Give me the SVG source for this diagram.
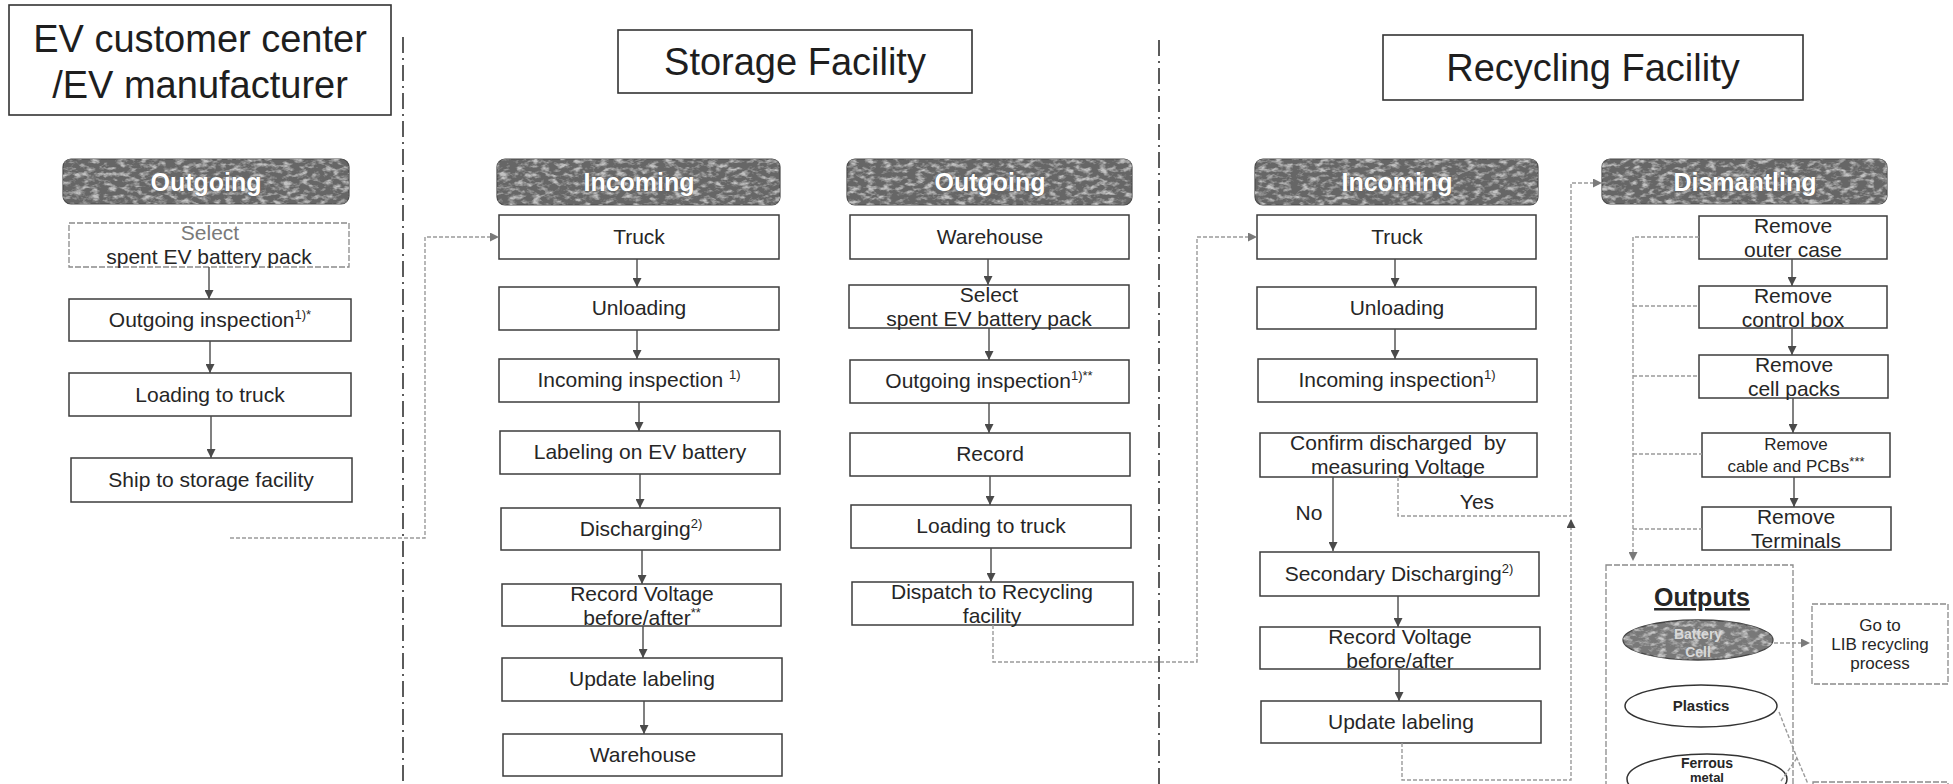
<svg xmlns="http://www.w3.org/2000/svg" width="1953" height="784" viewBox="0 0 1953 784">
<style>
.t{font-family:"Liberation Sans",Arial,sans-serif;fill:#262626;font-size:21px;text-anchor:middle}
.title{font-size:38px;fill:#1e1e1e}
.hd{font-weight:bold;font-size:25px;fill:#fff;stroke:#5a5a5a;stroke-width:0.6;paint-order:stroke}
.box{fill:#fff;stroke:#3c3c3c;stroke-width:1.5}
.tbox{fill:#fff;stroke:#333;stroke-width:1.6}
.hdr{fill:#666;stroke:#4a4a4a;stroke-width:1.2}
.tex{fill:#000;opacity:0.6}
.arr{stroke:#4a4a4a;stroke-width:1.4;fill:none}
.conn{stroke:#9a9a9a;stroke-width:1.4;fill:none;stroke-dasharray:4 2}
.div{stroke:#333;stroke-width:1.6;stroke-dasharray:16 5 2 5;fill:none}
.dbox{fill:#fff;stroke:#8a8a8a;stroke-width:1.3;stroke-dasharray:6 2}
.sup{font-size:13px}
.sm{font-size:17px}
.out{font-size:15px;font-weight:bold}
</style>
<defs>
<marker id="ah" viewBox="0 0 10 10" refX="10" refY="5" markerWidth="9" markerHeight="9" markerUnits="userSpaceOnUse" orient="auto"><path d="M0,0L10,5L0,10z" fill="#4a4a4a"/></marker>
<marker id="ahg" viewBox="0 0 10 10" refX="10" refY="5" markerWidth="9" markerHeight="9" markerUnits="userSpaceOnUse" orient="auto"><path d="M0,0L10,5L0,10z" fill="#7a7a7a"/></marker>
<filter id="speck" x="0" y="0" width="1" height="1">
<feTurbulence type="fractalNoise" baseFrequency="0.12 0.22" numOctaves="3" seed="5" result="n"/>
<feColorMatrix in="n" type="matrix" values="0 0 0 0 1 0 0 0 0 1 0 0 0 0 1 0 0 0 3 -1.35" result="w"/>
<feComposite in="w" in2="SourceGraphic" operator="in"/>
</filter>
</defs>
<rect width="1953" height="784" fill="#fff"/>

<g id="dividers">
<line class="div" x1="403" y1="37" x2="403" y2="784"/>
<line class="div" x1="1159" y1="40" x2="1159" y2="784"/>
</g>

<g id="title-ev"><rect class="tbox" x="9" y="5" width="382" height="110"/>
<text class="t title" x="200" y="52">EV customer center</text>
<text class="t title" x="200" y="98">/EV manufacturer</text></g>
<g id="title-storage"><rect class="tbox" x="618" y="30" width="354" height="63"/>
<text class="t title" x="795" y="75">Storage Facility</text></g>
<g id="title-recycling"><rect class="tbox" x="1383" y="35" width="420" height="65"/>
<text class="t title" x="1593" y="81">Recycling Facility</text></g>

<!-- Column 1 -->
<g id="c1-header"><rect class="hdr" x="63" y="159" width="286" height="45" rx="8"/><rect class="tex" x="63" y="159" width="286" height="45" rx="8" filter="url(#speck)"/>
<text class="t hd" x="206" y="191">Outgoing</text></g>
<g id="c1-select"><rect class="dbox" x="69" y="223" width="280" height="44"/>
<text class="t" x="210" y="240" style="fill:#7a7a7a">Select</text><text class="t" x="209" y="264">spent EV battery pack</text></g>
<g id="c1-inspection"><rect class="box" x="69" y="299" width="282" height="42"/>
<text class="t" x="210" y="327">Outgoing inspection<tspan class="sup" dy="-8">1)*</tspan></text></g>
<g id="c1-loading"><rect class="box" x="69" y="373" width="282" height="43"/>
<text class="t" x="210" y="402">Loading to truck</text></g>
<g id="c1-ship"><rect class="box" x="71" y="458" width="281" height="44"/>
<text class="t" x="211" y="487">Ship to storage facility</text></g>

<!-- Column 2 -->
<g id="c2-header"><rect class="hdr" x="497" y="159" width="283" height="46" rx="8"/><rect class="tex" x="497" y="159" width="283" height="46" rx="8" filter="url(#speck)"/>
<text class="t hd" x="639" y="191">Incoming</text></g>
<g id="c2-truck"><rect class="box" x="499" y="215" width="280" height="44"/><text class="t" x="639" y="244">Truck</text></g>
<g id="c2-unloading"><rect class="box" x="499" y="287" width="280" height="43"/><text class="t" x="639" y="315">Unloading</text></g>
<g id="c2-inspection"><rect class="box" x="499" y="359" width="280" height="43"/><text class="t" x="639" y="387">Incoming inspection <tspan class="sup" dy="-8">1)</tspan></text></g>
<g id="c2-labeling"><rect class="box" x="500" y="431" width="280" height="43"/><text class="t" x="640" y="459">Labeling on EV battery</text></g>
<g id="c2-discharging"><rect class="box" x="501" y="508" width="279" height="42"/><text class="t" x="641" y="536">Discharging<tspan class="sup" dy="-8">2)</tspan></text></g>
<g id="c2-record"><rect class="box" x="502" y="584" width="279" height="42"/><text class="t" x="642" y="601">Record Voltage</text><text class="t" x="642" y="625">before/after<tspan class="sup" dy="-8">**</tspan></text></g>
<g id="c2-update"><rect class="box" x="502" y="658" width="280" height="43"/><text class="t" x="642" y="686">Update labeling</text></g>
<g id="c2-warehouse"><rect class="box" x="503" y="734" width="279" height="42"/><text class="t" x="643" y="762">Warehouse</text></g>

<!-- Column 3 -->
<g id="c3-header"><rect class="hdr" x="847" y="159" width="285" height="46" rx="8"/><rect class="tex" x="847" y="159" width="285" height="46" rx="8" filter="url(#speck)"/>
<text class="t hd" x="990" y="191">Outgoing</text></g>
<g id="c3-warehouse"><rect class="box" x="850" y="215" width="279" height="44"/><text class="t" x="990" y="244">Warehouse</text></g>
<g id="c3-select"><rect class="box" x="849" y="285" width="280" height="43"/><text class="t" x="989" y="302">Select</text><text class="t" x="989" y="326">spent EV battery pack</text></g>
<g id="c3-inspection"><rect class="box" x="850" y="360" width="279" height="43"/><text class="t" x="989" y="388">Outgoing inspection<tspan class="sup" dy="-8">1)**</tspan></text></g>
<g id="c3-record"><rect class="box" x="850" y="433" width="280" height="43"/><text class="t" x="990" y="461">Record</text></g>
<g id="c3-loading"><rect class="box" x="851" y="505" width="280" height="43"/><text class="t" x="991" y="533">Loading to truck</text></g>
<g id="c3-dispatch"><rect class="box" x="852" y="582" width="281" height="43"/><text class="t" x="992" y="599">Dispatch to Recycling</text><text class="t" x="992" y="623">facility</text></g>

<!-- Column 4 -->
<g id="c4-header"><rect class="hdr" x="1255" y="159" width="283" height="46" rx="8"/><rect class="tex" x="1255" y="159" width="283" height="46" rx="8" filter="url(#speck)"/>
<text class="t hd" x="1397" y="191">Incoming</text></g>
<g id="c4-truck"><rect class="box" x="1257" y="215" width="279" height="44"/><text class="t" x="1397" y="244">Truck</text></g>
<g id="c4-unloading"><rect class="box" x="1257" y="287" width="279" height="42"/><text class="t" x="1397" y="315">Unloading</text></g>
<g id="c4-inspection"><rect class="box" x="1258" y="359" width="279" height="43"/><text class="t" x="1397" y="387">Incoming inspection<tspan class="sup" dy="-8">1)</tspan></text></g>
<g id="c4-confirm"><rect class="box" x="1260" y="433" width="277" height="44"/><text class="t" x="1398" y="450" xml:space="preserve">Confirm discharged  by</text><text class="t" x="1398" y="474">measuring Voltage</text></g>
<g id="c4-secondary"><rect class="box" x="1260" y="552" width="279" height="44"/><text class="t" x="1399" y="581">Secondary Discharging<tspan class="sup" dy="-8">2)</tspan></text></g>
<g id="c4-record"><rect class="box" x="1260" y="627" width="280" height="42"/><text class="t" x="1400" y="644">Record Voltage</text><text class="t" x="1400" y="668">before/after</text></g>
<g id="c4-update"><rect class="box" x="1261" y="701" width="280" height="42"/><text class="t" x="1401" y="729">Update labeling</text></g>

<!-- Column 5 -->
<g id="c5-header"><rect class="hdr" x="1602" y="159" width="285" height="45" rx="8"/><rect class="tex" x="1602" y="159" width="285" height="45" rx="8" filter="url(#speck)"/>
<text class="t hd" x="1745" y="191">Dismantling</text></g>
<g id="c5-outer"><rect class="box" x="1699" y="216" width="188" height="43"/><text class="t" x="1793" y="233">Remove</text><text class="t" x="1793" y="257">outer case</text></g>
<g id="c5-control"><rect class="box" x="1699" y="286" width="188" height="42"/><text class="t" x="1793" y="303">Remove</text><text class="t" x="1793" y="327">control box</text></g>
<g id="c5-cell"><rect class="box" x="1699" y="355" width="189" height="43"/><text class="t" x="1794" y="372">Remove</text><text class="t" x="1794" y="396">cell packs</text></g>
<g id="c5-cable"><rect class="box" x="1702" y="433" width="188" height="44"/><text class="t sm" x="1796" y="450">Remove</text><text class="t sm" x="1796" y="472">cable and PCBs<tspan class="sup" dy="-6">***</tspan></text></g>
<g id="c5-terminals"><rect class="box" x="1702" y="507" width="189" height="43"/><text class="t" x="1796" y="524">Remove</text><text class="t" x="1796" y="548">Terminals</text></g>

<g id="outputs">
<rect class="dbox" x="1606" y="565" width="187" height="240"/>
<text class="t" x="1702" y="606" style="font-size:25px;font-weight:bold;text-decoration:underline">Outputs</text>
</g>
<g id="battery-cell"><ellipse cx="1698" cy="640" rx="75" ry="20" fill="#787878" stroke="#444" stroke-width="1.3"/>
<ellipse cx="1698" cy="640" rx="75" ry="20" class="tex" filter="url(#speck)"/>
<text class="t out" x="1698" y="639" style="fill:#d8d8d8;font-size:14px">Battery</text><text class="t out" x="1698" y="657" style="fill:#d8d8d8;font-size:14px">Cell</text></g>
<g id="plastics"><ellipse cx="1701" cy="706" rx="76" ry="21" fill="#fff" stroke="#333" stroke-width="1.5"/>
<text class="t out" x="1701" y="711">Plastics</text></g>
<g id="ferrous"><ellipse cx="1707" cy="779" rx="80" ry="25" fill="#fff" stroke="#333" stroke-width="1.5"/>
<text class="t out" x="1707" y="768" style="font-size:14px">Ferrous</text><text class="t out" x="1707" y="782" style="font-size:13px">metal</text></g>
<g id="lib"><rect class="dbox" x="1812" y="604" width="136" height="80"/>
<text class="t sm" x="1880" y="631">Go to</text><text class="t sm" x="1880" y="650">LIB recycling</text><text class="t sm" x="1880" y="669">process</text></g>
<g id="bottom-box"><rect class="dbox" x="1813" y="782" width="135" height="30"/></g>

<g id="connectors">
<line class="arr" x1="209" y1="267" x2="209" y2="299" marker-end="url(#ah)"/>
<line class="arr" x1="210" y1="341" x2="210" y2="373" marker-end="url(#ah)"/>
<line class="arr" x1="211" y1="416" x2="211" y2="458" marker-end="url(#ah)"/>
<line class="arr" x1="637" y1="259" x2="637" y2="287" marker-end="url(#ah)"/>
<line class="arr" x1="637" y1="330" x2="637" y2="359" marker-end="url(#ah)"/>
<line class="arr" x1="639" y1="402" x2="639" y2="431" marker-end="url(#ah)"/>
<line class="arr" x1="640" y1="474" x2="640" y2="508" marker-end="url(#ah)"/>
<line class="arr" x1="642" y1="550" x2="642" y2="584" marker-end="url(#ah)"/>
<line class="arr" x1="643" y1="626" x2="643" y2="658" marker-end="url(#ah)"/>
<line class="arr" x1="644" y1="701" x2="644" y2="734" marker-end="url(#ah)"/>
<line class="arr" x1="988" y1="259" x2="988" y2="285" marker-end="url(#ah)"/>
<line class="arr" x1="989" y1="328" x2="989" y2="360" marker-end="url(#ah)"/>
<line class="arr" x1="989" y1="403" x2="989" y2="433" marker-end="url(#ah)"/>
<line class="arr" x1="990" y1="476" x2="990" y2="505" marker-end="url(#ah)"/>
<line class="arr" x1="991" y1="548" x2="991" y2="582" marker-end="url(#ah)"/>
<line class="arr" x1="1395" y1="259" x2="1395" y2="287" marker-end="url(#ah)"/>
<line class="arr" x1="1395" y1="329" x2="1395" y2="359" marker-end="url(#ah)"/>
<line class="arr" x1="1333" y1="477" x2="1333" y2="551" marker-end="url(#ah)"/>
<line class="arr" x1="1398" y1="596" x2="1398" y2="627" marker-end="url(#ah)"/>
<line class="arr" x1="1399" y1="669" x2="1399" y2="701" marker-end="url(#ah)"/>
<line class="arr" x1="1792" y1="259" x2="1792" y2="286" marker-end="url(#ah)"/>
<line class="arr" x1="1792" y1="328" x2="1792" y2="355" marker-end="url(#ah)"/>
<line class="arr" x1="1793" y1="398" x2="1793" y2="433" marker-end="url(#ah)"/>
<line class="arr" x1="1794" y1="477" x2="1794" y2="507" marker-end="url(#ah)"/>
<polyline class="conn" points="230,538 425,538 425,237 499,237" marker-end="url(#ahg)"/>
<polyline class="conn" points="993,625 993,662 1197,662 1197,237 1257,237" marker-end="url(#ahg)"/>
<polyline class="conn" points="1398,477 1398,516 1571,516 1571,183 1602,183" marker-end="url(#ahg)"/>
<polyline class="conn" points="1402,743 1402,780 1571,780 1571,519" marker-end="url(#ah)"/>
<polyline class="conn" points="1699,237 1633,237 1633,561" marker-end="url(#ahg)"/>
<line class="conn" x1="1633" y1="306" x2="1699" y2="306"/>
<line class="conn" x1="1633" y1="376" x2="1699" y2="376"/>
<line class="conn" x1="1633" y1="454" x2="1702" y2="454"/>
<line class="conn" x1="1633" y1="529" x2="1702" y2="529"/>
<line class="conn" x1="1774" y1="643" x2="1810" y2="643" marker-end="url(#ahg)"/>
<polyline class="conn" points="1779,712 1797,758 1808,784"/>
<line class="conn" x1="1781" y1="781" x2="1797" y2="758"/>
</g>
<g id="labels">
<text class="t" x="1309" y="520">No</text>
<text class="t" x="1477" y="509">Yes</text>
</g>
</svg>
